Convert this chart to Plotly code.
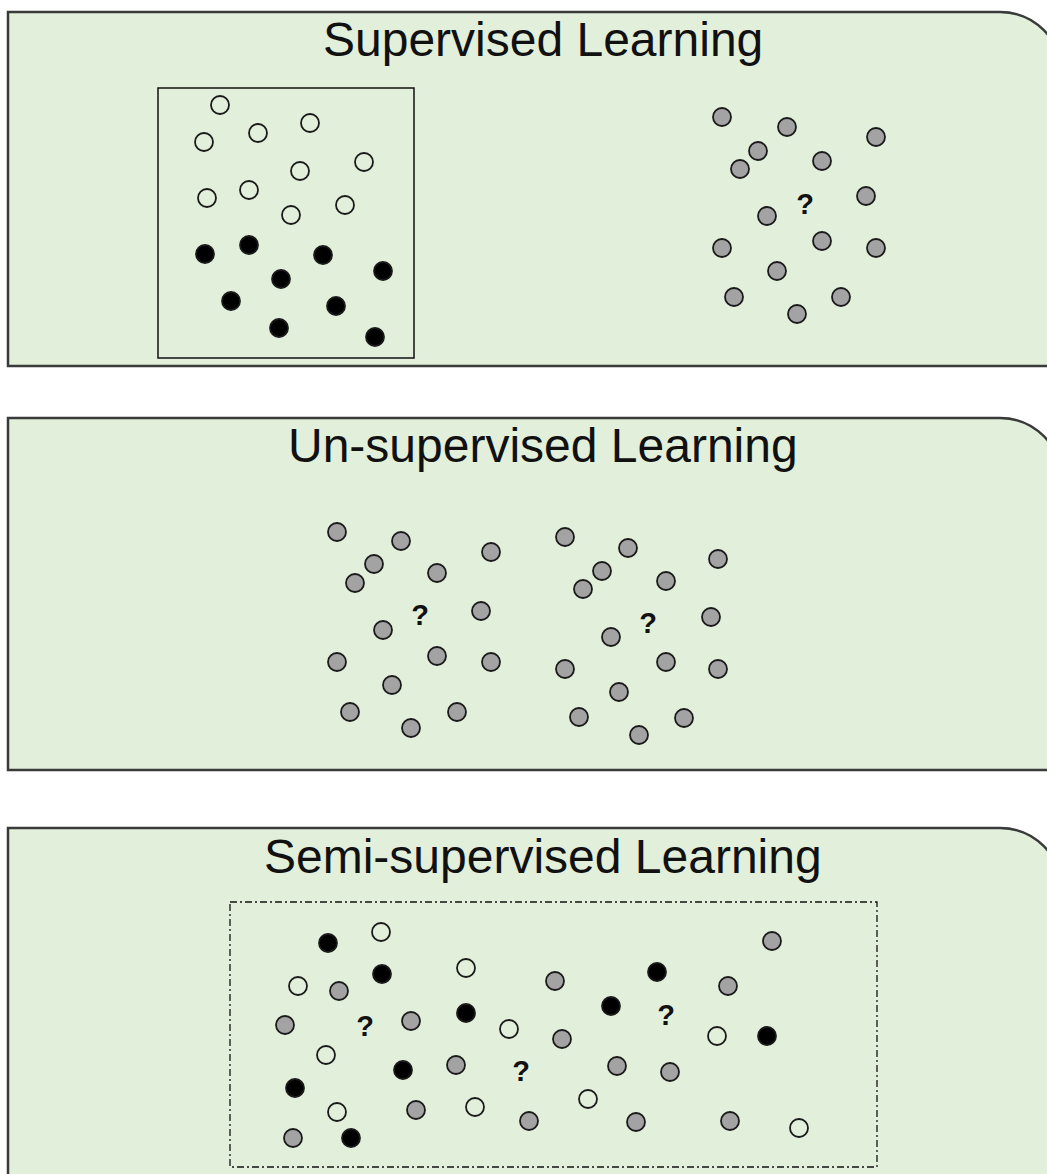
import plotly.graph_objects as go

# ---------------- data (pixel-space coordinates of the schematic points) -------------
panel_titles = ["Supervised Learning", "Un-supervised Learning", "Semi-supervised Learning"]
panel_tops = [12, 418, 828]
panel_bottoms = [366, 770, 1200]
title_y = [39, 445, 856]

# Supervised: labelled class A (open), labelled class B (black), unlabelled (gray)
sup_open_x = [220, 204, 258, 310, 364, 300, 207, 249, 291, 345]
sup_open_y = [105, 142, 133, 123, 162, 171, 198, 190, 215, 205]
sup_black_x = [205, 249, 323, 281, 383, 231, 336, 279, 375]
sup_black_y = [254, 245, 255, 279, 271, 301, 306, 328, 337]
sup_gray_x = [722, 787, 876, 758, 740, 822, 866, 767, 822, 722, 876, 777, 734, 841, 797]
sup_gray_y = [117, 127, 137, 151, 169, 161, 196, 216, 241, 248, 248, 271, 297, 297, 314]
sup_q_x = [805]
sup_q_y = [207]

# Un-supervised: two unlabelled clusters
uns_gray_x = [337, 401, 491, 374, 355, 437, 481, 383, 437, 337, 491, 392, 350, 457, 411,
              565, 628, 718, 602, 583, 666, 711, 611, 666, 565, 718, 619, 579, 684, 639]
uns_gray_y = [532, 541, 552, 564, 583, 573, 611, 630, 656, 662, 662, 685, 712, 712, 728,
              537, 548, 559, 571, 589, 581, 617, 637, 662, 669, 669, 692, 717, 718, 735]
uns_q_x = [420, 648]
uns_q_y = [618, 626]

# Semi-supervised: mixture
semi_open_x = [381, 466, 298, 509, 717, 326, 337, 475, 588, 799]
semi_open_y = [932, 968, 986, 1029, 1036, 1055, 1112, 1107, 1099, 1128]
semi_black_x = [328, 382, 657, 466, 611, 767, 403, 295, 351]
semi_black_y = [943, 974, 972, 1013, 1006, 1036, 1070, 1088, 1138]
semi_gray_x = [772, 555, 728, 339, 285, 411, 562, 456, 617, 670, 416, 529, 636, 730, 293]
semi_gray_y = [941, 981, 986, 991, 1025, 1021, 1039, 1065, 1066, 1072, 1110, 1121, 1122, 1121, 1138]
semi_q_x = [365, 666, 521]
semi_q_y = [1029, 1018, 1074]

# ---------------- styling ----------------
W, H = 1047, 1174
PANEL_FILL = "#E2EFDA"
PANEL_LINE = "#3a3a3a"
GRAY_FILL = "#A3A3A3"
LEFT, RIGHT, R = 8, 1062, 62
k = 0.5523 * R

fig = go.Figure()

shapes = []
for top, bot in zip(panel_tops, panel_bottoms):
    path = (f"M {LEFT},{bot} L {LEFT},{top} L {RIGHT - R},{top} "
            f"C {RIGHT - R + k},{top} {RIGHT},{top + R - k} {RIGHT},{top + R} "
            f"L {RIGHT},{bot} Z")
    shapes.append(dict(type="path", path=path, xref="x", yref="y",
                       fillcolor=PANEL_FILL, line=dict(color=PANEL_LINE, width=2.5),
                       layer="below"))

# labelled-data box (supervised)
shapes.append(dict(type="rect", xref="x", yref="y", x0=158, x1=414, y0=88, y1=358,
                   line=dict(color="#111111", width=1.5), fillcolor="rgba(0,0,0,0)",
                   layer="below"))
# dash-dot box (semi-supervised)
shapes.append(dict(type="rect", xref="x", yref="y", x0=230, x1=877, y0=902, y1=1167,
                   line=dict(color="#111111", width=1.3, dash="7px,3px,2px,3px"),
                   fillcolor="rgba(0,0,0,0)", layer="below"))


def dots(x, y, fill):
    fig.add_trace(go.Scatter(
        x=x, y=y, mode="markers", hoverinfo="skip", showlegend=False,
        marker=dict(size=18, color=fill, line=dict(color="#1a1a1a", width=1.8))))


def qmarks(x, y):
    fig.add_trace(go.Scatter(
        x=x, y=y, mode="text", text=["<b>?</b>"] * len(x), hoverinfo="skip",
        showlegend=False, textposition="middle center",
        textfont=dict(family="Liberation Sans, Arial", size=29, color="#111111")))


dots(sup_open_x, sup_open_y, PANEL_FILL)
dots(sup_black_x, sup_black_y, "#000000")
dots(sup_gray_x, sup_gray_y, GRAY_FILL)
qmarks(sup_q_x, sup_q_y)

dots(uns_gray_x, uns_gray_y, GRAY_FILL)
qmarks(uns_q_x, uns_q_y)

dots(semi_open_x, semi_open_y, PANEL_FILL)
dots(semi_black_x, semi_black_y, "#000000")
dots(semi_gray_x, semi_gray_y, GRAY_FILL)
qmarks(semi_q_x, semi_q_y)

annotations = []
for t, ty in zip(panel_titles, title_y):
    annotations.append(dict(text=t, x=543, y=ty, xref="x", yref="y", showarrow=False,
                            xanchor="center", yanchor="middle",
                            font=dict(family="Liberation Sans, Arial", size=48, color="#111111")))

fig.update_layout(
    width=W, height=H, margin=dict(l=0, r=0, t=0, b=0),
    paper_bgcolor="white", plot_bgcolor="white",
    xaxis=dict(range=[0, W], visible=False, fixedrange=True),
    yaxis=dict(range=[H, 0], visible=False, fixedrange=True),
    shapes=shapes, annotations=annotations,
)

fig.write_html(
    "out.html",
    config={"displayModeBar": False},
    post_script="document.body.style.margin='0';document.body.style.overflow='hidden';",
)
